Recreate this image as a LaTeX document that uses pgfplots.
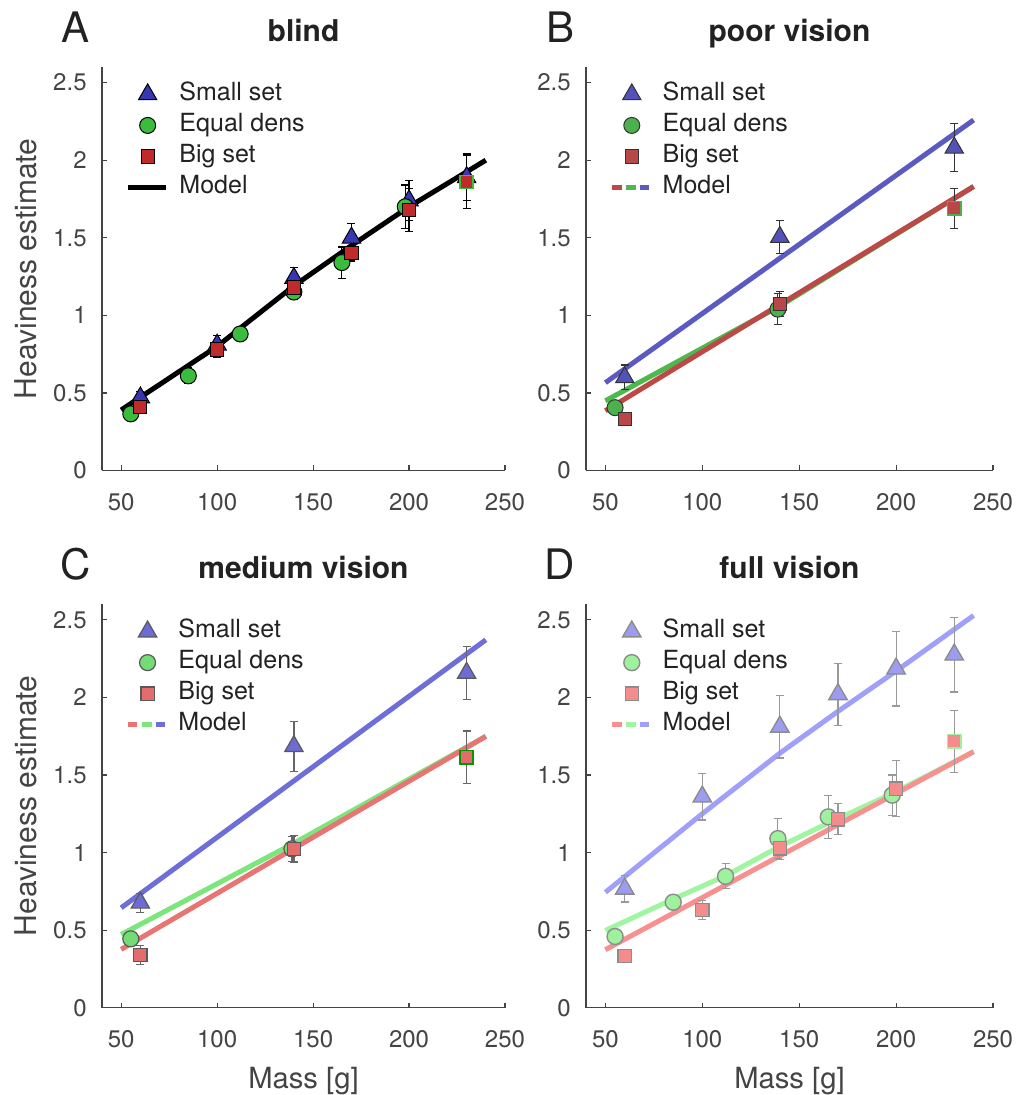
\documentclass[border=0pt]{standalone}
\usepackage{pgfplots}
\pgfplotsset{compat=1.18}
\usepackage{fontspec}
\setmainfont{TeX Gyre Heros}
\definecolor{txt}{HTML}{222222}
\definecolor{tk}{HTML}{444444}
% panel A
\definecolor{Ab}{HTML}{3737B3}\definecolor{Ag}{HTML}{3CBC3C}\definecolor{Ar}{HTML}{C02A2A}
% panel B
\definecolor{Bb}{HTML}{5252B8}\definecolor{Bg}{HTML}{4CB04C}\definecolor{Br}{HTML}{B84848}
\definecolor{Bbl}{HTML}{5A5AC0}\definecolor{Bgl}{HTML}{4DB84D}\definecolor{Brl}{HTML}{BC4848}
% panel C
\definecolor{Cb}{HTML}{6C6CD4}\definecolor{Cg}{HTML}{74DC74}\definecolor{Cr}{HTML}{E46C6C}
\definecolor{Cbl}{HTML}{6E6ED8}\definecolor{Cgl}{HTML}{7CE67C}\definecolor{Crl}{HTML}{E87474}
% panel D
\definecolor{Db}{HTML}{9C9CF0}\definecolor{Dg}{HTML}{9EF29E}\definecolor{Dr}{HTML}{F58C8C}
\definecolor{Dbl}{HTML}{A0A0FA}\definecolor{Dgl}{HTML}{A0F5A0}\definecolor{Drl}{HTML}{F89090}

\pgfplotsset{
 panel/.style={
  scale only axis, height=201.7pt,
  xmin=40, xmax=250, ymin=0, ymax=2.6,
  axis x line*=bottom, axis y line*=left,
  axis line style={-, draw=tk, line width=0.6pt},
  xtick={50,100,150,200,250}, ytick={0,0.5,1,1.5,2,2.5},
  tick align=inside, major tick length=2.5pt,
  tick style={draw=tk, line width=0.6pt},
  /pgf/number format/assume math mode=true,
  ticklabel style={font=\fontsize{12}{14}\selectfont, text=tk},
  xticklabel style={anchor=north, inner sep=0pt, yshift=-11.3pt},
  yticklabel style={anchor=east, inner sep=0pt, xshift=-7.5pt},
  title style={font=\fontsize{15}{18}\selectfont\bfseries, text=txt, at={(0.5,1)}, anchor=base, yshift=7pt},
  legend style={draw=none, fill=none, at={(0.0563,0.963)}, anchor=north west, inner sep=0pt,
     font=\fontsize{12.5}{15}\selectfont, text=txt, row sep=3.5pt, column sep=5.5pt,
     nodes={inner sep=0pt, text height=9pt, text depth=3pt}},
  legend cell align=left,
  clip=false,
  ylabel style={at={(axis description cs:-0.188,0.5)}, anchor=center, font=\fontsize{15}{18}\selectfont, text=tk},
  xlabel style={at={(axis description cs:0.5,0)}, anchor=base, yshift=-40.3pt, font=\fontsize{14.6}{18}\selectfont, text=tk},
 },
 mline/.style={no marks, line width=2.5pt, forget plot},
 tri/.style={only marks, mark=triangle*, mark size=5.3pt},
 circ/.style={only marks, mark=*, mark size=4pt},
 sq/.style={only marks, mark=square*, mark size=3.3pt},
 eb/.style={error bars/.cd, y dir=both, y explicit,
   error bar style={line width=0.6pt, draw=#1},
   error mark options={rotate=90, mark size=2pt, line width=0.6pt, draw=#1}},
}
\newcommand{\plabel}[1]{\node[font=\fontsize{21}{24}\selectfont, text=txt] at ([xshift=-13pt,yshift=20pt]rel axis cs:0,1) {#1};}

\begin{document}
\begin{tikzpicture}
\useasboundingbox (0,0) rectangle (515.5pt,-547.5pt);

% ---------------- A: blind ----------------
\begin{axis}[panel, width=201.5pt, at={(51pt,-235.25pt)}, anchor=south west,
  title={blind}, ylabel={Heaviness estimate}]
\addplot[mline, black] coordinates {(50,0.39) (100,0.80) (140,1.19) (170,1.45) (200,1.70) (240,2.00)};
\addplot[tri, mark options={fill=Ab, draw=black, line width=0.5pt}, eb=black] table[y error=e] {
x y e
60 0.47 0.04
100 0.81 0.06
140 1.24 0.07
170 1.50 0.09
200 1.74 0.13
230 1.89 0.15
};
\addlegendentry{Small set}
\addplot[circ, mark options={fill=Ag, draw=black, line width=0.5pt}, eb=black] table[y error=e] {
x y e
55 0.365 0.03
85 0.61 0.05
112 0.88 0.02
140 1.15 0.05
165 1.34 0.10
198 1.70 0.14
};
\addlegendentry{Equal dens}
\addplot[sq, mark options={fill=Ar, draw=black, line width=0.5pt}, eb=black] table[y error=e] {
x y e
60 0.41 0.04
100 0.78 0.05
140 1.18 0.05
170 1.40 0.05
200 1.68 0.14
230 1.86 0.17
};
\addlegendentry{Big set}
\addplot[sq, forget plot, mark options={fill=Ar, draw=Ag, line width=0.8pt}] coordinates {(230,1.86)};
\addlegendimage{legend image code/.code={\draw[black, line width=2.5pt] (-1.5pt,0pt) -- (17.7pt,0pt);}}
\addlegendentry{Model}
\plabel{A}
\end{axis}

% ---------------- B: poor vision ----------------
\begin{axis}[panel, width=203.5pt, at={(293pt,-235.25pt)}, anchor=south west,
  title={poor vision}]
\addplot[mline, Bbl] coordinates {(50,0.566) (240,2.259)};
\addplot[mline, Bgl] coordinates {(50,0.449) (140,1.06) (240,1.831)};
\addplot[mline, Brl] coordinates {(50,0.385) (240,1.83)};
\addplot[tri, mark options={fill=Bb, draw=black!80, line width=0.5pt}, eb=black!80] table[y error=e] {
x y e
60 0.60 0.08
140 1.505 0.105
230 2.08 0.155
};
\addlegendentry{Small set}
\addplot[circ, mark options={fill=Bg, draw=black!80, line width=0.5pt}, eb=black!80] table[y error=e] {
x y e
55 0.405 0.04
139 1.04 0.10
};
\addlegendentry{Equal dens}
\addplot[sq, mark options={fill=Br, draw=black!80, line width=0.5pt}, eb=black!80] table[y error=e] {
x y e
60 0.33 0.04
140 1.075 0.08
230 1.69 0.13
};
\addlegendentry{Big set}
\addplot[sq, forget plot, mark options={fill=Br, draw=Bg, line width=0.8pt}] coordinates {(230,1.69)};
\addlegendimage{legend image code/.code={
  \draw[Brl, line width=2.8pt] (-1.3pt,0pt) -- (3.4pt,0pt);
  \draw[Bgl, line width=2.8pt] (5.6pt,0pt) -- (10.6pt,0pt);
  \draw[Bbl, line width=2.8pt] (12.6pt,0pt) -- (17.1pt,0pt);}}
\addlegendentry{Model}
\plabel{B}
\end{axis}

% ---------------- C: medium vision ----------------
\begin{axis}[panel, width=201.5pt, at={(51pt,-503.85pt)}, anchor=south west,
  title={medium vision}, ylabel={Heaviness estimate}, xlabel={Mass [g]}]
\addplot[mline, Cbl] coordinates {(50,0.644) (240,2.371)};
\addplot[mline, Cgl] coordinates {(50,0.472) (140,1.06) (240,1.749)};
\addplot[mline, Crl] coordinates {(50,0.376) (240,1.749)};
\addplot[tri, mark options={fill=Cb, draw=black!65, line width=0.6pt}, eb=black!60] table[y error=e] {
x y e
60 0.676 0.06
140 1.685 0.16
230 2.157 0.17
};
\addlegendentry{Small set}
\addplot[circ, mark options={fill=Cg, draw=black!65, line width=0.6pt}, eb=black!60] table[y error=e] {
x y e
55 0.444 0.03
139 1.024 0.08
};
\addlegendentry{Equal dens}
\addplot[sq, mark options={fill=Cr, draw=black!65, line width=0.6pt}, eb=black!60] table[y error=e] {
x y e
60 0.339 0.06
140 1.024 0.085
230 1.614 0.17
};
\addlegendentry{Big set}
\addplot[sq, forget plot, mark options={fill=Cr, draw=green!60!black, line width=0.8pt}] coordinates {(230,1.614)};
\addlegendimage{legend image code/.code={
  \draw[Crl, line width=2.8pt] (-1.3pt,0pt) -- (3.4pt,0pt);
  \draw[Cgl, line width=2.8pt] (5.6pt,0pt) -- (10.6pt,0pt);
  \draw[Cbl, line width=2.8pt] (12.6pt,0pt) -- (17.1pt,0pt);}}
\addlegendentry{Model}
\plabel{C}
\end{axis}

% ---------------- D: full vision ----------------
\begin{axis}[panel, width=203.5pt, at={(293pt,-503.85pt)}, anchor=south west,
  title={full vision}, xlabel={Mass [g]}]
\addplot[mline, Dbl] coordinates {(50,0.744) (100,1.25) (140,1.64) (170,1.91) (200,2.17) (240,2.528)};
\addplot[mline, Dgl] coordinates {(50,0.498) (85,0.70) (112,0.85) (140,1.04) (165,1.19) (198,1.38) (240,1.65)};
\addplot[mline, Drl] coordinates {(50,0.374) (240,1.65)};
\addplot[tri, mark options={fill=Db, draw=black!45, line width=0.7pt}, eb=black!40] table[y error=e] {
x y e
60 0.766 0.085
100 1.36 0.15
140 1.81 0.20
170 2.02 0.20
200 2.185 0.24
230 2.275 0.24
};
\addlegendentry{Small set}
\addplot[circ, mark options={fill=Dg, draw=black!45, line width=0.7pt}, eb=black!40] table[y error=e] {
x y e
55 0.459 0.03
85 0.68 0.03
112 0.847 0.08
139 1.09 0.13
165 1.23 0.14
198 1.37 0.13
};
\addlegendentry{Equal dens}
\addplot[sq, mark options={fill=Dr, draw=black!45, line width=0.7pt}, eb=black!40] table[y error=e] {
x y e
60 0.333 0.04
100 0.631 0.06
140 1.027 0.07
170 1.215 0.10
200 1.412 0.18
230 1.718 0.20
};
\addlegendentry{Big set}
\addplot[sq, forget plot, mark options={fill=Dr, draw=Dg, line width=0.8pt}] coordinates {(230,1.718)};
\addlegendimage{legend image code/.code={
  \draw[Drl, line width=2.8pt] (-1.3pt,0pt) -- (3.4pt,0pt);
  \draw[Dgl, line width=2.8pt] (5.6pt,0pt) -- (10.6pt,0pt);
  \draw[Dbl, line width=2.8pt] (12.6pt,0pt) -- (17.1pt,0pt);}}
\addlegendentry{Model}
\plabel{D}
\end{axis}
\end{tikzpicture}
\end{document}
